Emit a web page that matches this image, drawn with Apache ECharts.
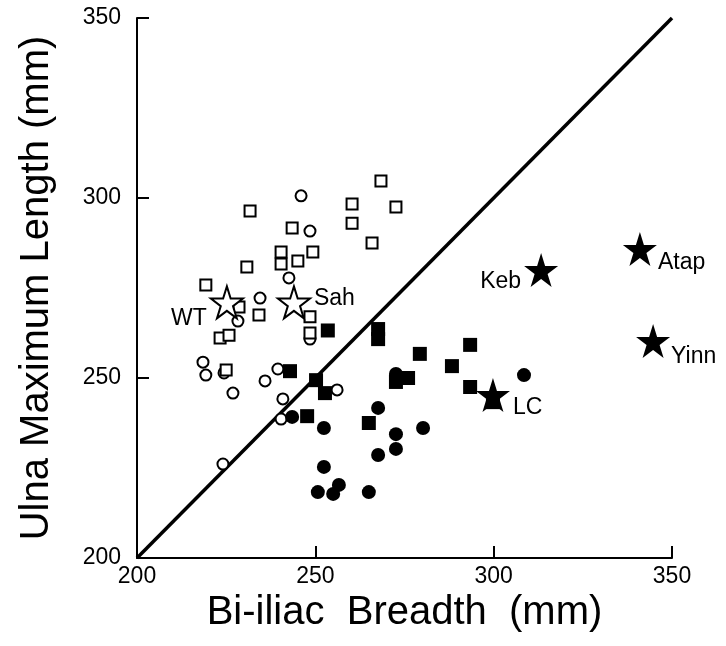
<!DOCTYPE html>
<html><head><meta charset="utf-8">
<script src="https://cdn.jsdelivr.net/npm/echarts@6/dist/echarts.min.js"></script>
<style>html,body{margin:0;padding:0;background:#fff}#c{width:726px;height:646px}</style>
</head><body><div id="c"></div>
<script>
const xTicks = [200, 250, 300, 350];
const yTicks = [200, 250, 300, 350];
const openSquares = [[231.7,296.4],[260.3,298.3],[260.3,293],[243.5,291.7],[240.4,285],[240.4,281.7],[245.1,282.5],[249.3,285],[230.8,280.8],[219.3,275.8],[228.6,269.7],[234.2,267.5],[248.5,267],[223.3,261.1],[225.8,261.9],[248.5,262.5],[225,252.2],[268.4,304.7],[272.6,297.5],[265.9,287.5]];
const openCircles = [[246,300.6],[248.5,290.8],[242.6,277.8],[234.5,272.2],[228.3,265.8],[248.5,260.8],[218.5,254.4],[219.3,250.8],[224.4,251.4],[226.9,245.8],[235.9,249.2],[239.5,252.5],[256.1,246.7],[240.9,244.2],[240.4,238.6],[224.1,226.1]];
const filledSquares = [[253.5,263.2],[267.6,263.6],[267.6,260.8],[279.3,256.7],[276,250],[272.6,248.9],[242.9,251.9],[250.2,249.4],[252.7,245.8],[247.7,239.4],[265,237.5],[293.4,259.2],[288.3,253.3],[293.4,247.5],[299.8,243.3]];
const filledCircles = [[243.5,239.2],[252.4,236.1],[252.4,225.3],[272.6,251.1],[267.6,241.7],[280.2,236.1],[272.6,234.4],[272.6,230.3],[267.6,228.6],[250.7,218.3],[255,217.8],[256.6,220.3],[265,218.3],[308.5,250.8]];
const openStarNames = ['WT', 'Sah'];
const openStarValues = [[225.2,271],[244,271]];
const filledStarNames = ['Keb', 'Atap', 'Yinn', 'LC'];
const filledStarValues = [[313.3,280],[341,285.8],[344.7,260.3],[299.8,245.3]];
const lineValues = [[200,200],[350,350]];

const STAR = 'path://M50,0 L61.2,34.5 L97.6,34.5 L68.2,55.9 L79.4,90.5 L50,69.1 L20.6,90.5 L31.8,55.9 L2.4,34.5 L38.8,34.5 Z';
const FONT = 'Liberation Sans';
const labelPos = {
  WT: {position:'left', offset:[2,16]},
  Sah: {position:'right', offset:[-2,-4]},
  Keb: {position:'left', offset:[2,12]},
  Atap: {position:'right', offset:[-4,14]},
  Yinn: {position:'right', offset:[-4,16]},
  LC: {position:'right', offset:[-2,13]}
};
function starData(names, vals){
  return names.map((n,i)=>({value: vals[i], name: n,
    label: Object.assign({show:true, formatter:n, fontSize:23, color:'#000', fontFamily:FONT}, labelPos[n])}));
}
const chart = echarts.init(document.getElementById('c'), null, {renderer:'canvas'});
const axisCommon = {
  type:'value', min:200, max:350, interval:50,
  axisLine:{show:true, lineStyle:{color:'#000', width:2}},
  axisTick:{show:true, inside:true, length:12, lineStyle:{color:'#000', width:2}},
  splitLine:{show:false},
  axisLabel:{fontSize:23, color:'#000', fontFamily:FONT},
  nameLocation:'middle',
  nameTextStyle:{fontSize:40, color:'#000', fontFamily:FONT}
};
chart.setOption({
  animation:false,
  backgroundColor:'#fff',
  grid:{left:137, right:54, top:18, bottom:88},
  xAxis: Object.assign({}, axisCommon, {name:'Bi-iliac  Breadth  (mm)', nameGap:34,
    axisLabel:Object.assign({}, axisCommon.axisLabel, {margin:7})}),
  yAxis: Object.assign({}, axisCommon, {name:'Ulna Maximum Length (mm)', nameGap:80,
    axisLabel:Object.assign({}, axisCommon.axisLabel, {margin:16})}),
  series:[
    {type:'line', data:lineValues, symbol:'none', lineStyle:{color:'#000', width:3.5}, z:1},
    {type:'scatter', data:openCircles, symbol:'circle', symbolSize:11,
      itemStyle:{color:'#fff', borderColor:'#000', borderWidth:2, opacity:1}, z:3},
    {type:'scatter', data:openSquares, symbol:'rect', symbolSize:11,
      itemStyle:{color:'#fff', borderColor:'#000', borderWidth:2, opacity:1}, z:3},
    {type:'scatter', data:filledCircles, symbol:'circle', symbolSize:14,
      itemStyle:{color:'#000', opacity:1}, z:4},
    {type:'scatter', data:filledSquares, symbol:'rect', symbolSize:14,
      itemStyle:{color:'#000', opacity:1}, z:4},
    {type:'scatter', data:starData(openStarNames, openStarValues), symbol:STAR, symbolSize:32,
      itemStyle:{color:'#fff', borderColor:'#000', borderWidth:2, opacity:1}, z:5},
    {type:'scatter', data:starData(filledStarNames, filledStarValues), symbol:STAR, symbolSize:34,
      itemStyle:{color:'#000', opacity:1}, z:5}
  ]
});
</script></body></html>
